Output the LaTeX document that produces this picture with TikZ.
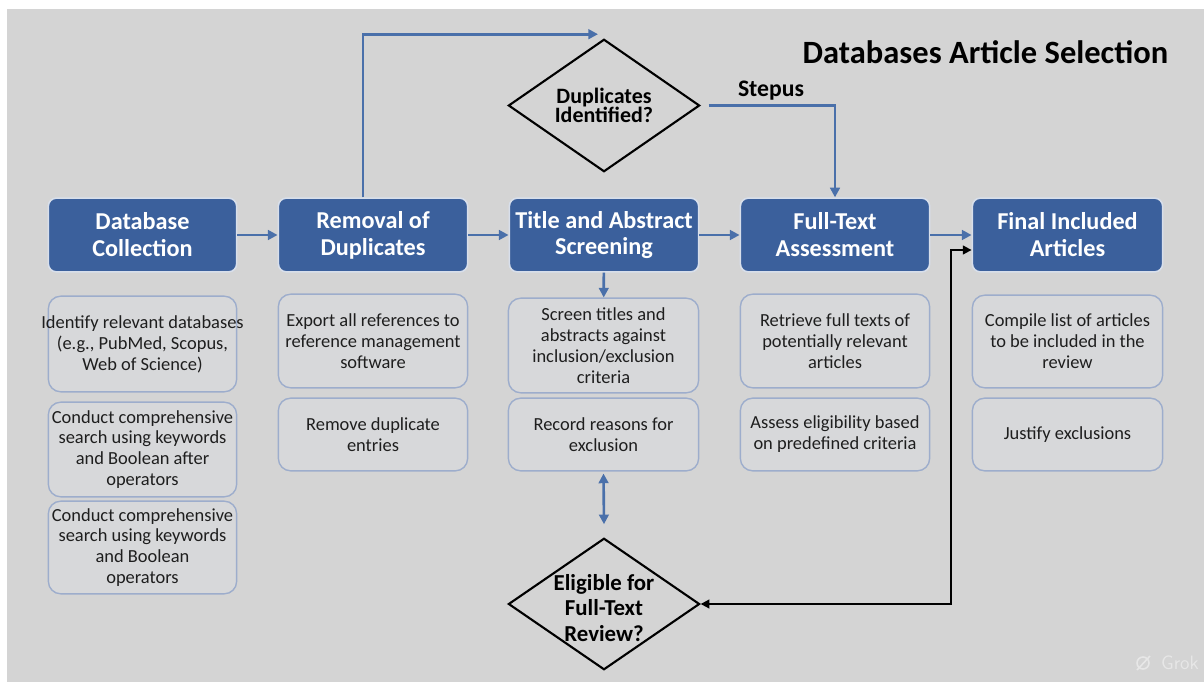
\documentclass[tikz,border=0pt]{standalone}
\usepackage{fontspec}
\setmainfont{Carlito}
\usetikzlibrary{shapes.geometric,arrows.meta,calc}

% one drawing unit is one pixel of a 1204 x 682 canvas
\def\px{0.5669pt}

\definecolor{canvas}{HTML}{D4D4D4}
\definecolor{hdrblue}{HTML}{3B609C}
\definecolor{arrowblue}{HTML}{4A70AA}
\definecolor{subedge}{HTML}{9DADCC}
\definecolor{subfill}{HTML}{D7D8DA}
\definecolor{ink}{HTML}{1E1E1E}

\tikzset{
  boxdim/.style 2 args={minimum width=#1*\px, minimum height=#2*\px},
  hdr/.style={draw=white!80!hdrblue, line width=0.9pt, fill=hdrblue,
    rounded corners=4.5pt, inner sep=0pt, text=white, align=center,
    font=\fontsize{13.8}{15.3}\selectfont\bfseries},
  sub/.style={draw=subedge, line width=0.8pt, fill=subfill,
    rounded corners=7pt, inner sep=0pt, text=ink, align=center,
    font=\fontsize{10.5}{11.9}\selectfont},
  decision/.style={diamond, draw=black, line width=1.2pt, inner sep=0pt},
  dectext/.style={align=center, inner sep=0pt, text=black, font=\bfseries},
  flow/.style={draw=arrowblue, line width=1.5pt,
    -{Triangle[length=5.5pt,width=5.5pt]}},
  flowboth/.style={draw=arrowblue, line width=1.5pt,
    {Triangle[length=5.5pt,width=5.5pt]}-{Triangle[length=5.5pt,width=5.5pt]}},
  backflow/.style={draw=black, line width=1.1pt,
    {Triangle[length=5pt,width=5pt]}-{Triangle[length=5pt,width=5pt]}},
}

\begin{document}
\begin{tikzpicture}[x=0.02cm, y=-0.02cm]
  % page and canvas
  \useasboundingbox (0,0) rectangle (1204,682);
  \fill[white] (0,0) rectangle (1204,682);
  \fill[canvas] (7,9) rectangle (1204,682);

  % title
  \node[font=\fontsize{18.5}{20}\selectfont\bfseries, text=black, inner sep=0pt]
    (title) at (985.5,52) {Databases Article Selection};

  % stage headers
  \node[hdr, boxdim={189}{74}] (db)  at (142.5,235) {Database\\Collection};
  \node[hdr, boxdim={190}{74}] (rem) at (373,235)   {Removal of\\Duplicates};
  \node[hdr, boxdim={190}{74}] (tas) at (604,235)   {Title and Abstract\\Screening};
  \node[hdr, boxdim={190}{74}] (ful) at (835,235)   {Full-Text\\Assessment};
  \node[hdr, boxdim={191}{74}] (fin) at (1067.5,235) {Final Included\\Articles};

  % task boxes under each stage
  \node[sub, boxdim={189}{96}] (db1) at (142.5,344)
    {\makebox[102pt]{Identify relevant databases}\\(e.g., PubMed, Scopus,\\Web of Science)};
  \node[sub, boxdim={189}{95}] (db2) at (142.5,449.5)
    {Conduct comprehensive\\search using keywords\\and Boolean after\\operators};
  \node[sub, boxdim={189}{93}] (db3) at (142.5,547.5)
    {Conduct comprehensive\\search using keywords\\and Boolean\\operators};

  \node[sub, boxdim={190}{94}] (rem1) at (373,341)
    {Export all references to\\reference management\\software};
  \node[sub, boxdim={190}{73}] (rem2) at (373,434.5)
    {Remove duplicate\\entries};

  \node[sub, boxdim={191}{95}] (tas1) at (603.5,345.5)
    {Screen titles and\\abstracts against\\inclusion/exclusion\\criteria};
  \node[sub, boxdim={191}{73}] (tas2) at (603.5,434.5)
    {Record reasons for\\exclusion};

  \node[sub, boxdim={190}{94}] (ful1) at (835,341)
    {Retrieve full texts of\\potentially relevant\\articles};
  \node[sub, boxdim={190}{73}] (ful2) at (835,434.5)
    {Assess eligibility based\\on predefined criteria};

  \node[sub, boxdim={191}{93}] (fin1) at (1067.5,341.5)
    {Compile list of articles\\to be included in the\\review};
  \node[sub, boxdim={191}{73}] (fin2) at (1067.5,434.5)
    {Justify exclusions};

  % decisions
  \node[decision, boxdim={192}{133}] (dup) at (604,105.5) {};
  \node[dectext, font=\fontsize{12.5}{11}\selectfont\bfseries] (duptext) at (dup.center)
    {Duplicates\\Identified?};
  \node[decision, boxdim={192}{132}] (elig) at (604,604) {};
  \node[dectext, font=\fontsize{13}{14.7}\selectfont\bfseries] (eligtext)
    at ($(elig.center)+(0,4)$) {Eligible for\\Full-Text\\Review?};

  % main flow between stages
  \draw[flow] (db) -- (rem);
  \draw[flow] (rem) -- (tas);
  \draw[flow] (tas) -- (ful);
  \draw[flow] (ful) -- (fin);
  \draw[flow] (tas) -- (tas1);

  % loop over the duplicates check
  \draw[flow] ($(rem.north)+(-10,0)$) |- ($(dup.north)+(-6,-4)$);
  \draw[flow] ($(dup.east)+(8,0)$) -| (ful.north);
  \node[font=\fontsize{13.5}{15}\selectfont\bfseries, text=black, inner sep=0pt]
    (stepus) at (771,91) {Stepus};

  % screening <-> eligibility
  \draw[flowboth] ($(tas2.south)+(0,2)$) -- ($(elig.north)+(0,-13)$);

  % eligibility <-> final articles
  \coordinate (bend) at (951,604);
  \draw[backflow] (elig.east) -- (bend) |- ($(fin.west)+(0,15)$);

  % generator mark
  \draw[canvas!55!white, line width=0.9pt] (1143,663) circle (6);
  \draw[canvas!55!white, line width=0.9pt] (1137,670) -- (1150,656);
  \node[canvas!55!white, font=\fontsize{11}{12}\selectfont\sffamily, inner sep=0pt]
    (mark) at (1180,663) {Grok};
\end{tikzpicture}
\end{document}
